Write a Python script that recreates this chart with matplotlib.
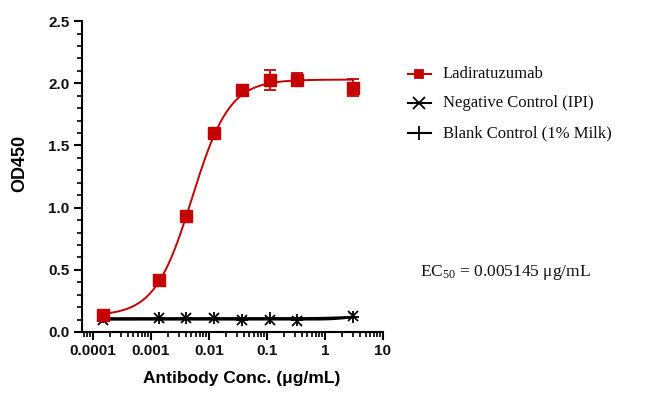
import numpy as np
import matplotlib
matplotlib.use("Agg")
import matplotlib.pyplot as plt
from matplotlib.ticker import LogLocator, NullFormatter, MultipleLocator, FixedLocator, FixedFormatter

plt.rcParams["mathtext.fontset"] = "custom"
plt.rcParams["mathtext.rm"] = "Liberation Serif"
plt.rcParams["mathtext.it"] = "Liberation Serif:italic"

# ---- data ----
conc = [0.000152, 0.00137, 0.0041, 0.0123, 0.037, 0.111, 0.333, 3.0]
lad_mean = [0.14, 0.42, 0.93, 1.60, 1.95, 2.025, 2.03, 1.965]
lad_err = [0.01, 0.01, 0.01, 0.01, 0.01, 0.08, 0.05, 0.07]
neg_mean = [0.10, 0.11, 0.11, 0.11, 0.10, 0.10, 0.09, 0.13]
blank_mean = [0.12, 0.11, 0.11, 0.11, 0.10, 0.11, 0.10, 0.12]

# fitted 4PL parameters
lad_fit = dict(bottom=0.13, top=2.03, ec50=0.005145, hill=1.35)
neg_fit = dict(bottom=0.10, top=0.13, ec50=2.5, hill=3.0)
blank_fit = dict(bottom=0.11, top=0.125, ec50=2.0, hill=2.0)

xticks = [0.0001, 0.001, 0.01, 0.1, 1, 10]
xticklabels = ["0.0001", "0.001", "0.01", "0.1", "1", "10"]
yticks = [0.0, 0.5, 1.0, 1.5, 2.0, 2.5]
yticklabels = ["0.0", "0.5", "1.0", "1.5", "2.0", "2.5"]

legend_labels = ["Ladiratuzumab", "Negative Control (IPI)", "Blank Control (1% Milk)"]
ec50_text = "EC$_{\\mathrm{50}}$ = 0.005145 μg/mL"


def four_pl(x, bottom, top, ec50, hill):
    return bottom + (top - bottom) / (1 + (ec50 / x) ** hill)


red = "#C40000"

fig = plt.figure(figsize=(6.54, 3.99), dpi=100)
ax = fig.add_axes([0.1254, 0.168, 0.4602, 0.779])

xf = np.logspace(np.log10(conc[0]), np.log10(conc[-1]), 300)

# black controls
ax.plot(xf, four_pl(xf, **blank_fit), color="black", lw=1.6, zorder=2)
ax.plot(xf, four_pl(xf, **neg_fit), color="black", lw=1.6, zorder=2)
ax.plot(conc, blank_mean, linestyle="none", marker="+", color="black", ms=9, mew=1.3, zorder=3)
ax.plot(conc, neg_mean, linestyle="none", marker="x", color="black", ms=7, mew=1.3, zorder=3)

# red
ax.plot(xf, four_pl(xf, **lad_fit), color=red, lw=1.4, zorder=4)
ax.errorbar(conc, lad_mean, yerr=lad_err, linestyle="none", marker="s", color=red,
            ms=8, capsize=4, elinewidth=1.3, capthick=1.3, zorder=5)

ax.set_xscale("log")
ax.set_xlim(6.5e-5, 10)
ax.set_ylim(0, 2.5)

ax.xaxis.set_major_locator(FixedLocator(xticks))
ax.xaxis.set_major_formatter(FixedFormatter(xticklabels))
ax.xaxis.set_minor_locator(LogLocator(base=10, subs=np.arange(2, 10), numticks=20))
ax.xaxis.set_minor_formatter(NullFormatter())
ax.yaxis.set_major_locator(FixedLocator(yticks))
ax.yaxis.set_major_formatter(FixedFormatter(yticklabels))
ax.yaxis.set_minor_locator(MultipleLocator(0.1))

for s in ["top", "right"]:
    ax.spines[s].set_visible(False)
for s in ["left", "bottom"]:
    ax.spines[s].set_linewidth(1.5)

ax.tick_params(axis="both", which="major", direction="out", length=6, width=1.5, pad=3)
ax.tick_params(axis="both", which="minor", direction="out", length=3.5, width=1.2)
for lab in ax.get_xticklabels() + ax.get_yticklabels():
    lab.set_fontfamily("Liberation Sans")
    lab.set_fontweight("bold")
    lab.set_fontsize(11)
    lab.set_color("#111111")

fig.text(242 / 654, 1 - 379 / 399, "Antibody Conc. (μg/mL)", fontfamily="Liberation Sans",
         fontweight="bold", fontsize=12.5, ha="center", va="center")
fig.text(20 / 654, 1 - 163 / 399, "OD450", rotation=90, fontfamily="Liberation Sans",
         fontweight="bold", fontsize=13, ha="center", va="center")

# legend drawn manually in figure coords
leg_y = [74, 103, 133]
for i, (lbl, yy) in enumerate(zip(legend_labels, leg_y)):
    yf = 1 - yy / 399
    x0, x1 = 408 / 654, 431 / 654
    col = red if i == 0 else "black"
    fig.lines.append(plt.Line2D([x0, x1], [yf, yf], transform=fig.transFigure, color=col, lw=1.5))
    mk = ["s", "x", "+"][i]
    ms = [6, 8, 10][i]
    fig.lines.append(plt.Line2D([(x0 + x1) / 2], [yf], transform=fig.transFigure, color=col,
                                marker=mk, ms=ms, mew=1.3, linestyle="none"))
    fig.text(443 / 654, yf, lbl, fontfamily="Liberation Serif", fontsize=12,
             va="center", ha="left", color="#111111")

fig.text(420 / 654, 1 - 272 / 399, ec50_text, fontfamily="Liberation Serif", fontsize=12.5,
         va="center", ha="left", color="#111111")

fig.savefig("out.png", dpi=100)
